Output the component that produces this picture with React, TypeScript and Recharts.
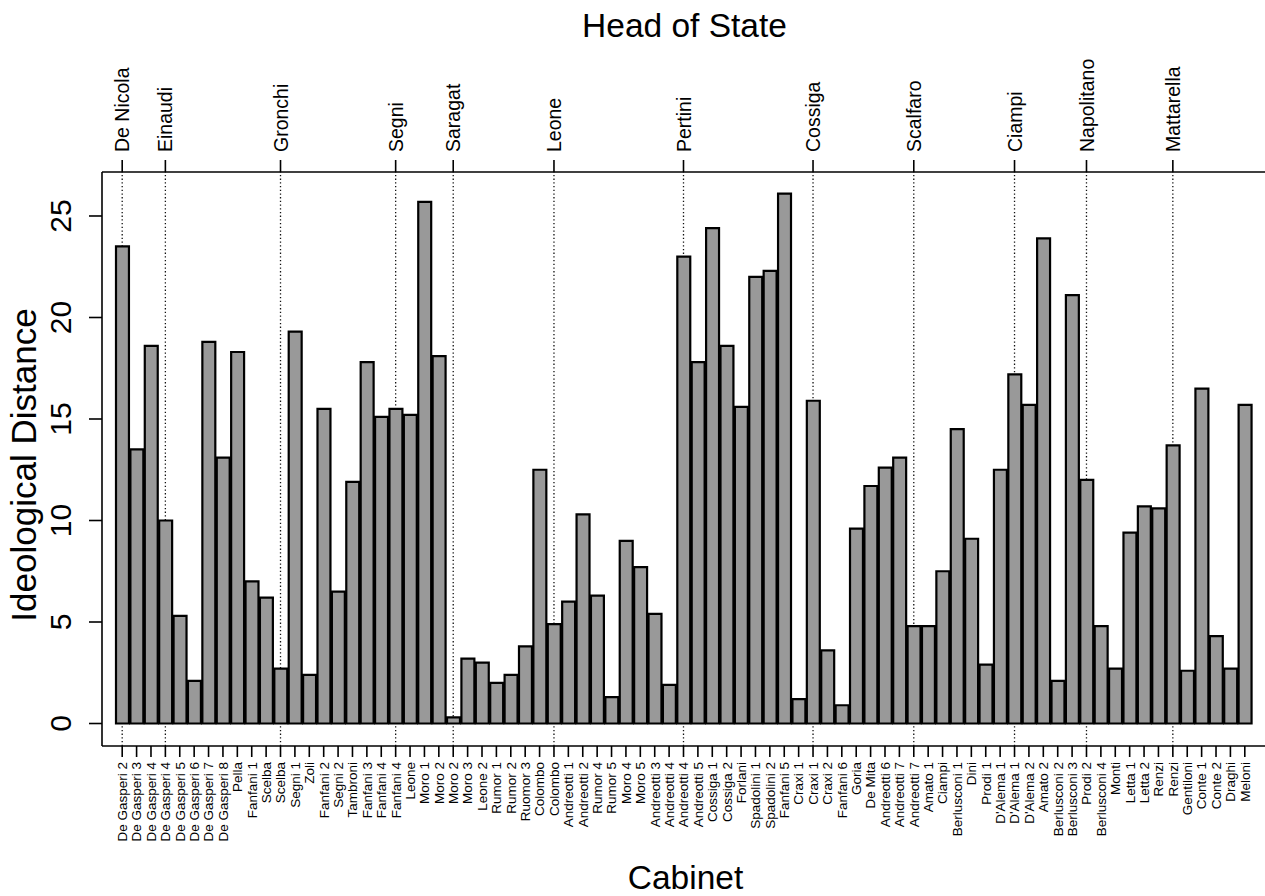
import { BarChart, Bar, XAxis, YAxis, ReferenceLine, Label } from "recharts";

const cabinets = [
  "De Gasperi 2", "De Gasperi 3", "De Gasperi 4", "De Gasperi 4", "De Gasperi 5",
  "De Gasperi 6", "De Gasperi 7", "De Gasperi 8", "Pella", "Fanfani 1",
  "Scelba", "Scelba", "Segni 1", "Zoli", "Fanfani 2",
  "Segni 2", "Tambroni", "Fanfani 3", "Fanfani 4", "Fanfani 4",
  "Leone", "Moro 1", "Moro 2", "Moro 2", "Moro 3",
  "Leone 2", "Rumor 1", "Rumor 2", "Ruomor 3", "Colombo",
  "Colombo", "Andreotti 1", "Andreotti 2", "Rumor 4", "Rumor 5",
  "Moro 4", "Moro 5", "Andreotti 3", "Andreotti 4", "Andreotti 4",
  "Andreotti 5", "Cossiga 1", "Cossiga 2", "Forlani", "Spadolini 1",
  "Spadolini 2", "Fanfani 5", "Craxi 1", "Craxi 1", "Craxi 2",
  "Fanfani 6", "Goria", "De Mita", "Andreotti 6", "Andreotti 7",
  "Andreotti 7", "Amato 1", "Ciampi", "Berlusconi 1", "Dini",
  "Prodi 1", "D'Alema 1", "D'Alema 1", "D'Alema 2", "Amato 2",
  "Berlusconi 2", "Berlusconi 3", "Prodi 2", "Berlusconi 4", "Monti",
  "Letta 1", "Letta 2", "Renzi", "Renzi", "Gentiloni",
  "Conte 1", "Conte 2", "Draghi", "Meloni",
];

const distances = [
  23.5, 13.5, 18.6, 10.0, 5.3,
  2.1, 18.8, 13.1, 18.3, 7.0,
  6.2, 2.7, 19.3, 2.4, 15.5,
  6.5, 11.9, 17.8, 15.1, 15.5,
  15.2, 25.7, 18.1, 0.3, 3.2,
  3.0, 2.0, 2.4, 3.8, 12.5,
  4.9, 6.0, 10.3, 6.3, 1.3,
  9.0, 7.7, 5.4, 1.9, 23.0,
  17.8, 24.4, 18.6, 15.6, 22.0,
  22.3, 26.1, 1.2, 15.9, 3.6,
  0.9, 9.6, 11.7, 12.6, 13.1,
  4.8, 4.8, 7.5, 14.5, 9.1,
  2.9, 12.5, 17.2, 15.7, 23.9,
  2.1, 21.1, 12.0, 4.8, 2.7,
  9.4, 10.7, 10.6, 13.7, 2.6,
  16.5, 4.3, 2.7, 15.7,
];

// heads of state and the cabinet (index) at which each took office
const heads = [
  "De Nicola", "Einaudi", "Gronchi", "Segni", "Saragat", "Leone",
  "Pertini", "Cossiga", "Scalfaro", "Ciampi", "Napolitano", "Mattarella",
];
const headStart = [0, 3, 11, 19, 23, 30, 39, 48, 55, 62, 67, 73];

const yTicks = [0, 5, 10, 15, 20, 25];

const data = cabinets.map((name, i) => ({ id: `c${i}`, name, distance: distances[i] }));
const headIds = headStart.map((i) => `c${i}`);

const FONT = "Arial, 'Liberation Sans', Helvetica, sans-serif";

function CabinetTick({ x, y, payload }: any) {
  const i = Number(String(payload.value).slice(1));
  return (
    <text
      x={x}
      y={y}
      dy="0.36em"
      transform={`rotate(-90, ${x}, ${y})`}
      textAnchor="end"
      fontSize={13.5}
      fontFamily={FONT}
      fill="#000"
    >
      {cabinets[i]}
    </text>
  );
}

function HeadTick({ x, y, payload }: any) {
  const k = headIds.indexOf(payload.value);
  return (
    <text
      x={x}
      y={y}
      dy="0.36em"
      transform={`rotate(-90, ${x}, ${y})`}
      textAnchor="start"
      fontSize={19.5}
      fontFamily={FONT}
      fill="#000"
    >
      {heads[k]}
    </text>
  );
}

function DistanceTick({ x, y, payload }: any) {
  return (
    <text
      x={x}
      y={y}
      transform={`rotate(-90, ${x}, ${y})`}
      textAnchor="middle"
      fontSize={30}
      fontFamily={FONT}
      fill="#000"
    >
      {payload.value}
    </text>
  );
}

export default function App() {
  const axisLine = { stroke: "#000", strokeWidth: 1.6 };
  return (
    <div style={{ position: "absolute", left: 0, top: 0, width: 1265, height: 896, background: "#fff" }}>
      <BarChart
        width={1265}
        height={896}
        data={data}
        margin={{ top: 112, right: 0, bottom: 30, left: 42 }}
        barCategoryGap={0}
        barGap={0}
      >
        <XAxis
          dataKey="id"
          type="category"
          interval={0}
          height={120}
          padding={{ left: 13, right: 13 }}
          axisLine={axisLine}
          tickLine={axisLine}
          tickSize={11}
          tickMargin={5}
          tick={<CabinetTick />}
        >
          <Label
            content={({ viewBox }: any) => (
              <text
                x={viewBox.x + viewBox.width / 2 + 2}
                y={889}
                textAnchor="middle"
                fontSize={33.5}
                fontFamily={FONT}
                fill="#000"
              >
                Cabinet
              </text>
            )}
          />
        </XAxis>
        <XAxis
          xAxisId="top"
          orientation="top"
          dataKey="id"
          type="category"
          ticks={headIds}
          interval={0}
          height={60}
          padding={{ left: 13, right: 13 }}
          axisLine={axisLine}
          tickLine={axisLine}
          tickSize={12}
          tickMargin={8}
          tick={<HeadTick />}
        >
          <Label
            content={({ viewBox }: any) => (
              <text
                x={viewBox.x + viewBox.width / 2 + 1}
                y={37}
                textAnchor="middle"
                fontSize={33.5}
                fontFamily={FONT}
                fill="#000"
              >
                Head of State
              </text>
            )}
          />
        </XAxis>
        <YAxis
          type="number"
          domain={[-1.108, 27.167]}
          allowDataOverflow
          ticks={yTicks}
          width={60}
          axisLine={axisLine}
          tickLine={axisLine}
          tickSize={13}
          tickMargin={18}
          tick={<DistanceTick />}
        >
          <Label
            content={() => (
              <text
                x={36}
                y={465}
                transform="rotate(-90, 36, 465)"
                textAnchor="middle"
                fontSize={35}
                fontFamily={FONT}
                fill="#000"
              >
                Ideological Distance
              </text>
            )}
          />
        </YAxis>
        {headIds.map((id) => (
          <ReferenceLine
            key={id}
            x={id}
            stroke="#111"
            strokeWidth={1.3}
            strokeDasharray="1.3 2.4"
            zIndex={-50}
          />
        ))}
        <Bar
          dataKey="distance"
          fill="#999999"
          stroke="#000"
          strokeWidth={2.2}
          barSize={1137 / 79}
          isAnimationActive={false}
        />
      </BarChart>
    </div>
  );
}
